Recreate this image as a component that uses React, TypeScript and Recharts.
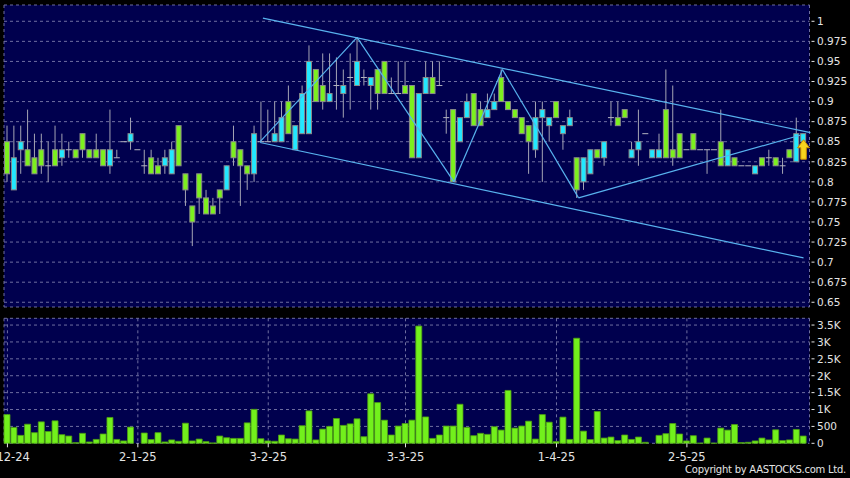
import { ComposedChart, Bar, XAxis, YAxis, CartesianGrid, ReferenceLine, ReferenceDot } from 'recharts';

// daily bars, index 0 = 2-12-24
const opens = [
  0.85, 0.79, 0.84, 0.84, 0.83, 0.84, 0.82, 0.84, 0.83, 0.84, 0.84, 0.86, 0.84, 0.84, 0.84, 0.82, 0.83, 0.85, 0.85, 0.84,
  0.82, 0.83, 0.82, 0.82, 0.81, 0.87, 0.81, 0.77, 0.81, 0.78, 0.77, 0.79, 0.79, 0.85, 0.84, 0.82, 0.81, 0.85, 0.85, 0.85,
  0.85, 0.9, 0.84, 0.86, 0.86, 0.94, 0.92, 0.9, 0.92, 0.91, 0.93, 0.92, 0.93, 0.92, 0.94, 0.95, 0.91, 0.91, 0.92, 0.92,
  0.83, 0.91, 0.93, 0.92, 0.88, 0.89, 0.85, 0.88, 0.91, 0.89, 0.88, 0.89, 0.93, 0.9, 0.89, 0.88, 0.87, 0.84, 0.88, 0.87,
  0.9, 0.86, 0.87, 0.83, 0.8, 0.81, 0.84, 0.83, 0.88, 0.88, 0.89, 0.83, 0.84, 0.86, 0.83, 0.83, 0.89, 0.84, 0.86, 0.84,
  0.86, 0.84, 0.84, 0.84, 0.85, 0.82, 0.83, 0.82, 0.82, 0.81, 0.83, 0.83, 0.83, 0.82, 0.84, 0.825, 0.85,
];
const highs = [
  0.87, 0.87, 0.87, 0.89, 0.86, 0.86, 0.85, 0.87, 0.86, 0.85, 0.84, 0.86, 0.84, 0.86, 0.84, 0.89, 0.84, 0.85, 0.88, 0.84,
  0.84, 0.84, 0.83, 0.84, 0.85, 0.87, 0.81, 0.77, 0.81, 0.79, 0.78, 0.79, 0.82, 0.87, 0.84, 0.82, 0.87, 0.9, 0.89, 0.9,
  0.9, 0.92, 0.87, 0.92, 0.97, 0.94, 0.96, 0.96, 0.955, 0.94, 0.96, 0.98, 0.94, 0.93, 0.94, 0.95, 0.93, 0.95, 0.95, 0.92,
  0.91, 0.95, 0.95, 0.95, 0.89, 0.89, 0.88, 0.91, 0.91, 0.9, 0.91, 0.91, 0.94, 0.9, 0.89, 0.88, 0.87, 0.9, 0.9, 0.88,
  0.9, 0.87, 0.89, 0.83, 0.83, 0.84, 0.84, 0.85, 0.9, 0.9, 0.89, 0.85, 0.89, 0.86, 0.84, 0.86, 0.94, 0.92, 0.86, 0.84,
  0.86, 0.84, 0.84, 0.84, 0.89, 0.84, 0.83, 0.82, 0.82, 0.82, 0.83, 0.84, 0.83, 0.83, 0.84, 0.88, 0.86,
];
const lows = [
  0.8, 0.79, 0.81, 0.82, 0.81, 0.81, 0.8, 0.82, 0.82, 0.83, 0.83, 0.83, 0.83, 0.83, 0.82, 0.81, 0.83, 0.85, 0.84, 0.84,
  0.81, 0.81, 0.81, 0.81, 0.81, 0.82, 0.77, 0.72, 0.76, 0.76, 0.76, 0.76, 0.79, 0.82, 0.77, 0.79, 0.8, 0.85, 0.85, 0.85,
  0.85, 0.86, 0.84, 0.86, 0.86, 0.9, 0.89, 0.9, 0.89, 0.88, 0.89, 0.92, 0.92, 0.89, 0.89, 0.91, 0.91, 0.91, 0.91, 0.83,
  0.83, 0.91, 0.91, 0.92, 0.86, 0.8, 0.85, 0.88, 0.87, 0.87, 0.88, 0.89, 0.9, 0.89, 0.88, 0.86, 0.81, 0.83, 0.8, 0.85,
  0.88, 0.84, 0.87, 0.78, 0.79, 0.81, 0.83, 0.82, 0.87, 0.87, 0.88, 0.83, 0.82, 0.86, 0.83, 0.83, 0.83, 0.82, 0.83, 0.84,
  0.84, 0.84, 0.81, 0.84, 0.82, 0.82, 0.82, 0.82, 0.82, 0.81, 0.82, 0.82, 0.82, 0.81, 0.83, 0.825, 0.85,
];
const closes = [
  0.81, 0.83, 0.85, 0.82, 0.81, 0.82, 0.82, 0.82, 0.84, 0.84, 0.83, 0.84, 0.83, 0.83, 0.82, 0.84, 0.83, 0.85, 0.86, 0.84,
  0.82, 0.81, 0.81, 0.83, 0.84, 0.82, 0.79, 0.75, 0.78, 0.76, 0.76, 0.78, 0.82, 0.83, 0.82, 0.81, 0.86, 0.85, 0.85, 0.86,
  0.88, 0.86, 0.87, 0.91, 0.95, 0.9, 0.9, 0.91, 0.92, 0.92, 0.93, 0.95, 0.93, 0.93, 0.91, 0.91, 0.91, 0.91, 0.91, 0.83,
  0.91, 0.93, 0.91, 0.92, 0.88, 0.8, 0.88, 0.9, 0.87, 0.87, 0.89, 0.9, 0.9, 0.89, 0.88, 0.86, 0.85, 0.88, 0.89, 0.88,
  0.88, 0.87, 0.88, 0.79, 0.83, 0.84, 0.83, 0.85, 0.88, 0.87, 0.88, 0.84, 0.85, 0.86, 0.84, 0.84, 0.83, 0.83, 0.83, 0.84,
  0.84, 0.84, 0.84, 0.84, 0.82, 0.84, 0.82, 0.82, 0.82, 0.82, 0.82, 0.83, 0.82, 0.82, 0.83, 0.86, 0.86,
];
const volumes = [
  850, 470, 235, 565, 315, 635, 350, 665, 255, 215, 20, 295, 40, 115, 275, 765, 115, 70, 480, 0,
  305, 110, 315, 40, 100, 60, 595, 70, 125, 50, 10, 215, 165, 145, 145, 605, 1005, 135, 70, 60,
  245, 135, 125, 520, 960, 100, 420, 500, 735, 530, 575, 725, 195, 1465, 1205, 685, 245, 510, 585, 685,
  3470, 780, 145, 245, 510, 510, 1155, 470, 225, 295, 265, 490, 390, 1565, 450, 510, 655, 125, 850, 625,
  50, 775, 115, 3110, 360, 110, 940, 155, 185, 80, 245, 115, 185, 30, 0, 235, 285, 585, 275, 70,
  225, 5, 155, 5, 450, 390, 555, 20, 30, 70, 155, 100, 400, 80, 100, 410, 215,
];

// date ticks (bar index -> label)
const dateTicks = [0, 19, 38, 58, 80, 99];
const dateLabels = ['2-12-24', '2-1-25', '3-2-25', '3-3-25', '1-4-25', '2-5-25'];
const priceTicks = [0.65, 0.675, 0.7, 0.725, 0.75, 0.775, 0.8, 0.825, 0.85, 0.875, 0.9, 0.925, 0.95, 0.975, 1];
const volumeTicks = [0, 500, 1000, 1500, 2000, 2500, 3000, 3500];

// drawn trend lines (bar index, price)
const zigzagX = [37, 51, 65, 72, 83, 115];
const zigzagY = [0.85, 0.98, 0.8, 0.94, 0.78, 0.858];
const upperX = [37.4, 116.5];
const upperY = [1.004, 0.8613];
const lowerX = [37, 115.5];
const lowerY = [0.849, 0.7052];
const arrowX = 115.5;
const arrowY = 0.84;

const rows = opens.map((o, i) => ({ i, o, h: highs[i], l: lows[i], c: closes[i], v: volumes[i] }));

const NAVY = '#00004e';
const GRID = '#6e6ea0';
const TEXT = '#e4e4e4';
const LINE = '#58b2ee';

const Candle = (props: any) => {
  const { x, y, width, height, payload } = props;
  const { o, h, l, c } = payload;
  const top = Math.min(y, y + height);
  const span = Math.abs(height);
  const py = (v: number) => (h > l ? top + ((h - v) / (h - l)) * span : top);
  const cx = x + width / 2;
  const bTop = py(Math.max(o, c));
  const bBot = py(Math.min(o, c));
  const fill = c > o ? '#22e8ff' : '#7cf01e';
  return (
    <g>
      {h > l && <line x1={cx} x2={cx} y1={top} y2={top + span} stroke="#a4a4b4" strokeWidth={1} />}
      {o === c ? (
        <line x1={x} x2={x + width} y1={bTop} y2={bTop} stroke="#b4b4c0" strokeWidth={1} />
      ) : (
        <rect x={x + 0.5} y={bTop} width={width - 1} height={Math.max(bBot - bTop, 1)} fill={fill} stroke="#8a8a8a" strokeWidth={1} />
      )}
    </g>
  );
};

const Arrow = (props: any) => {
  const { cx, cy } = props;
  const pts = [
    [cx, cy - 10], [cx + 6, cy - 2], [cx + 2.8, cy - 2], [cx + 2.8, cy + 9.5],
    [cx - 2.8, cy + 9.5], [cx - 2.8, cy - 2], [cx - 6, cy - 2],
  ].map((p) => p.join(',')).join(' ');
  return <polygon points={pts} fill="#f8d41e" stroke="#c88a00" strokeWidth={1} />;
};

const PriceTick = (props: any) => {
  const { x, y, payload } = props;
  return (
    <g>
      <line x1={x - 6} x2={x - 3} y1={y} y2={y} stroke={TEXT} />
      <text x={x - 0.5} y={y} dy="0.36em" fill={TEXT} fontSize={10.5} fontFamily="DejaVu Sans">
        {String(payload.value)}
      </text>
    </g>
  );
};

const fmtVol = (v: number) => (v >= 1000 ? `${v / 1000}K` : String(v));

const VolTick = (props: any) => {
  const { x, y, payload } = props;
  return (
    <g>
      <line x1={x - 6} x2={x - 3} y1={y} y2={y} stroke={TEXT} />
      <text x={x - 0.5} y={y} dy="0.36em" fill={TEXT} fontSize={10.5} fontFamily="DejaVu Sans">
        {fmtVol(payload.value)}
      </text>
    </g>
  );
};

const DateTick = (props: any) => {
  const { x, y, payload } = props;
  const k = dateTicks.indexOf(payload.value);
  return (
    <text x={x} y={y + 12} textAnchor="middle" fill={TEXT} fontSize={11.5} fontFamily="DejaVu Sans">
      {dateLabels[k]}
    </text>
  );
};

const seg = (xs: number[], ys: number[], k: number) => [
  { x: xs[k], y: ys[k] },
  { x: xs[k + 1], y: ys[k + 1] },
];

export default function App() {
  return (
    <div style={{ position: 'absolute', left: 0, top: 0, width: 850, height: 478, background: '#000', overflow: 'hidden' }}>
      <div style={{ position: 'absolute', left: 0, top: 0 }}>
        <ComposedChart width={850} height={312} data={rows} margin={{ top: 5, right: 0, bottom: 5, left: 4 }}>
          <CartesianGrid fill={NAVY} stroke={GRID} strokeDasharray="3 3" />
          <XAxis dataKey="i" type="category" ticks={dateTicks} interval={0} height={0} tick={false} tickLine={false} axisLine={false} padding={{ left: 0, right: 2.5 }} />
          <XAxis xAxisId="n" type="number" domain={[-0.5, 116.5]} hide padding={{ left: 0, right: 2.5 }} />
          <YAxis orientation="right" width={40.5} domain={[0.6441, 1.0203]} ticks={priceTicks} interval={0} tick={<PriceTick />} tickLine={false} axisLine={false} tickSize={0} tickMargin={8} />
          <Bar dataKey={(d: any) => [d.l, d.h]} barSize={6} shape={<Candle />} isAnimationActive={false} />
          {zigzagX.slice(0, -1).map((_, k) => (
            <ReferenceLine key={`z${k}`} xAxisId="n" segment={seg(zigzagX, zigzagY, k)} stroke={LINE} strokeWidth={1.2} ifOverflow="visible" />
          ))}
          <ReferenceLine xAxisId="n" segment={seg(upperX, upperY, 0)} stroke={LINE} strokeWidth={1.2} ifOverflow="visible" />
          <ReferenceLine xAxisId="n" segment={seg(lowerX, lowerY, 0)} stroke={LINE} strokeWidth={1.2} ifOverflow="visible" />
          <ReferenceDot xAxisId="n" x={arrowX} y={arrowY} r={6} shape={<Arrow />} ifOverflow="visible" />
        </ComposedChart>
      </div>
      <div style={{ position: 'absolute', left: 0, top: 312 }}>
        <ComposedChart width={850} height={166} data={rows} margin={{ top: 6.3, right: 0, bottom: 0, left: 4 }}>
          <CartesianGrid fill={NAVY} stroke={GRID} strokeDasharray="3 3" />
          <XAxis dataKey="i" type="category" ticks={dateTicks} interval={0} height={34.7} tick={<DateTick />} tickSize={4} tickMargin={2} tickLine={{ stroke: TEXT }} axisLine={false} padding={{ left: 0, right: 2.5 }} />
          <YAxis orientation="right" width={40.5} domain={[0, 3700]} ticks={volumeTicks} interval={0} tick={<VolTick />} tickLine={false} axisLine={false} tickSize={0} tickMargin={8} />
          <Bar dataKey="v" barSize={6} fill="#72f01c" stroke="#4e9e12" strokeWidth={0.8} isAnimationActive={false} />
        </ComposedChart>
      </div>
      <div style={{ position: 'absolute', right: 4, top: 464, color: TEXT, fontFamily: 'DejaVu Sans', fontSize: 10, letterSpacing: -0.25, lineHeight: '12px' }}>
        Copyright by AASTOCKS.com Ltd.
      </div>
    </div>
  );
}
